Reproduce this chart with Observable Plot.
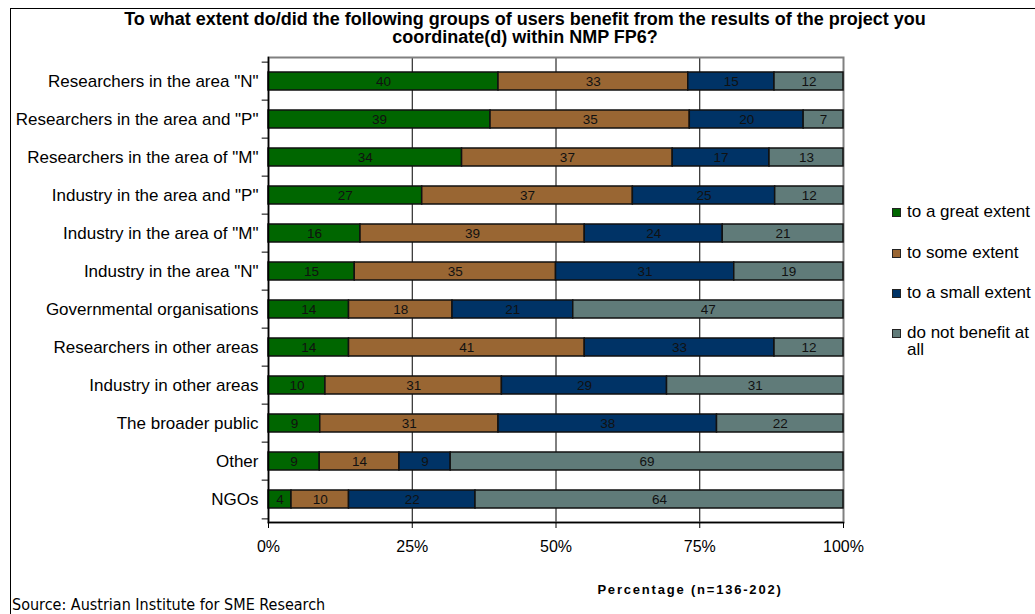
<!DOCTYPE html>
<html><head><meta charset="utf-8">
<script src="https://cdn.jsdelivr.net/npm/d3@7"></script>
<script src="https://cdn.jsdelivr.net/npm/@observablehq/plot@0.6"></script>
<style>
body{margin:0;background:#fff;}
#wrap{position:relative;width:1035px;height:614px;overflow:hidden;font-family:"Liberation Sans",Arial,sans-serif;color:#000;}
#border{position:absolute;left:10px;top:8px;width:1040px;height:620px;border:1.5px solid #000;box-sizing:border-box;}
#title{position:absolute;left:25px;top:10px;width:1000px;text-align:center;font-weight:bold;font-size:18px;line-height:18px;}
#chart{position:absolute;left:0;top:0;}
#legend{position:absolute;left:892px;top:0;width:150px;font-size:17px;}
.li{position:absolute;left:0;width:150px;display:flex;align-items:flex-start;line-height:17px;}
.sw{width:7px;height:7px;border:1.2px solid #222;margin-top:5px;margin-right:6px;flex:none;}
#xlabel{position:absolute;left:560px;width:260px;top:582px;text-align:center;font-weight:bold;font-size:13px;letter-spacing:1.8px;line-height:15px;}
#source{position:absolute;left:12px;top:596px;font-family:"Liberation Sans Narrow","DejaVu Sans Condensed",sans-serif;font-size:16px;line-height:17px;}
</style>
</head><body>
<div id="wrap">
<div id="border"></div>
<div id="chart"></div>
<div id="title">To what extent do/did the following groups of users benefit from the results of the project you<br>coordinate(d) within NMP FP6?</div>
<div id="legend"></div>
<div id="xlabel">Percentage (n=136-202)</div>
<div id="source">Source: Austrian Institute for SME Research</div>
</div>
<script>
const categories = [
  'Researchers in the area "N"',
  'Researchers in the area and "P"',
  'Researchers in the area of "M"',
  'Industry in the area and "P"',
  'Industry in the area of "M"',
  'Industry in the area "N"',
  'Governmental organisations',
  'Researchers in other areas',
  'Industry in other areas',
  'The broader public',
  'Other',
  'NGOs'
];
const great = [40,39,34,27,16,15,14,14,10,9,9,4];
const some  = [33,35,37,37,39,35,18,41,31,31,14,10];
const small = [15,20,17,25,24,31,21,33,29,38,9,22];
const none  = [12,7,13,12,21,19,47,12,31,22,69,64];
const seriesNames = ["to a great extent","to some extent","to a small extent","do not benefit at all"];
const colors = ["#006600","#996633","#003366","#607b79"];
const xTicks = [0,0.25,0.5,0.75,1];
const xTickLabels = ["0%","25%","50%","75%","100%"];
const gridTicks = [0.25,0.5,0.75];

const seriesArrays = [great, some, small, none];
const table = categories.flatMap((c,i)=>seriesArrays.map((arr,j)=>({category:c, series:seriesNames[j], value:arr[i]})));

const W = 1035, H = 614, mT = 57, mB = 92, mL = 268, mR = 192;
const step = (H - mT - mB) / categories.length;

const chart = Plot.plot({
  width: W, height: H,
  marginTop: mT, marginBottom: mB, marginLeft: mL, marginRight: mR,
  style: {fontFamily: '"Liberation Sans", Arial, sans-serif', fontSize: "17px", background: "transparent", overflow: "visible", color: "#000"},
  x: {domain: [0,1], label: null},
  y: {domain: categories, paddingInner: 0.53, paddingOuter: 0.265, label: null},
  color: {domain: seriesNames, range: colors},
  marks: [
    Plot.ruleX(gridTicks, {stroke: "#000", strokeWidth: 1}),
    Plot.frame({stroke: "#808080", strokeWidth: 2}),
    Plot.barX(table, Plot.stackX({offset: "normalize", x: "value", y: "category", z: "series", fill: "series", stroke: "#111", strokeWidth: 1.5})),
    Plot.text(table, Plot.stackX({offset: "normalize", x: "value", y: "category", z: "series", text: "value", fill: "#111", fontSize: 13.5})),
    Plot.frame({anchor: "left", stroke: "#000", strokeWidth: 1.5}),
    Plot.frame({anchor: "bottom", stroke: "#000", strokeWidth: 1.5}),
    Plot.ruleY(categories, {y: d => d, x1: -0.011, x2: 0, dy: -step/2, stroke: "#000"}),
    Plot.ruleY(categories.slice(-1), {y: d => d, x1: -0.011, x2: 0, dy: step/2, stroke: "#000"}),
    Plot.axisX({ticks: xTicks, tickFormat: (d,i) => xTickLabels[xTicks.indexOf(d)], tickSize: 6, tickPadding: 12, fontSize: 16, label: null}),
    Plot.axisY({tickSize: 0, tickPadding: 10, fontSize: 17, label: null})
  ]
});
document.getElementById("chart").appendChild(chart);

const legendY = [212, 253, 293, 333];
const lg = document.getElementById("legend");
seriesNames.forEach((s,i)=>{
  const d = document.createElement("div");
  d.className = "li";
  d.style.top = (legendY[i] - 9) + "px";
  d.innerHTML = `<span class="sw" style="background:${colors[i]}"></span><span>${s}</span>`;
  lg.appendChild(d);
});
</script>
</body></html>
